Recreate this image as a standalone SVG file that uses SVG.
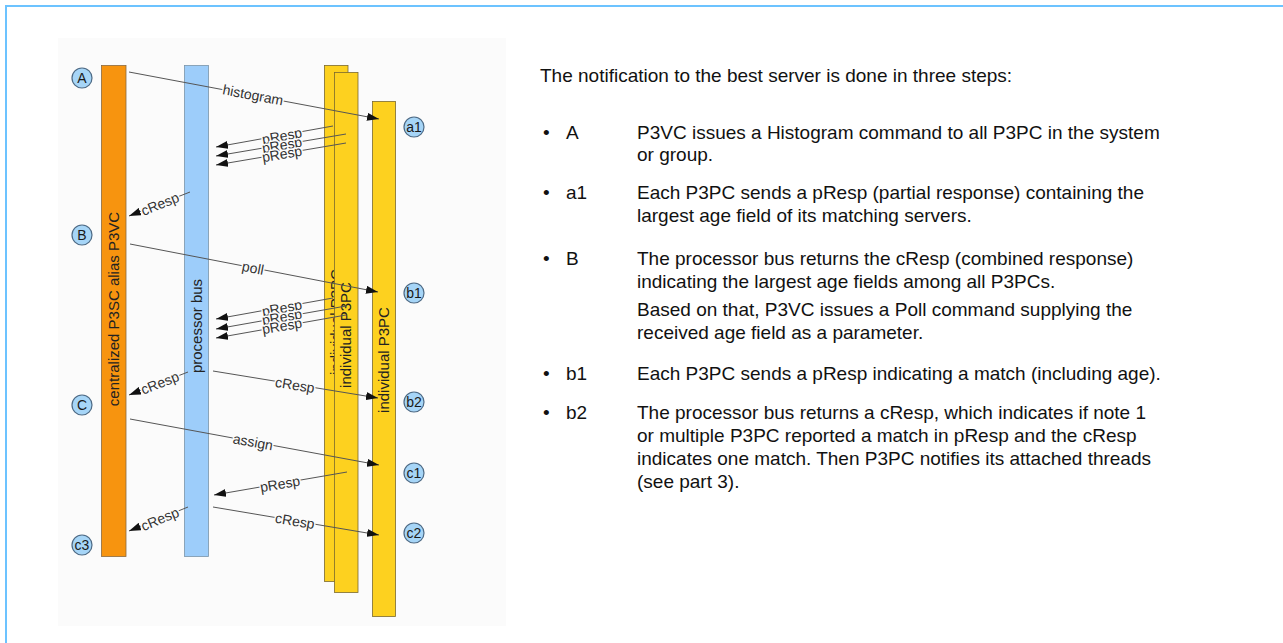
<svg xmlns="http://www.w3.org/2000/svg" width="1283" height="643" viewBox="0 0 1283 643">
<style>
.bar-o{fill:#f7940f;stroke:#8a6a40;stroke-width:0.8}
.bar-b{fill:#9dcdfa;stroke:#7a94aa;stroke-width:0.8}
.bar-y{fill:#fdd11f;stroke:#7a6a30;stroke-width:0.8}
.barlbl{font-family:"Liberation Sans",Arial,sans-serif;font-size:15px;fill:#222;text-anchor:middle}
.circ{fill:#a6d5f7;stroke:#4d6a85;stroke-width:1.2}
.clbl{font-family:"Liberation Sans",Arial,sans-serif;font-size:14px;fill:#1a1a1a;text-anchor:middle}
.conn{stroke:#555;stroke-width:1;fill:none;marker-end:url(#ah)}
.alb{font-family:"Liberation Sans",Arial,sans-serif;font-size:14px;fill:#333;text-anchor:middle;stroke:#fcfcfc;stroke-width:3;paint-order:stroke;stroke-linejoin:round}
.txt{font-family:"Liberation Sans",Arial,Helvetica,sans-serif;font-size:19px;fill:#111}
</style>
<defs>
<marker id="ah" markerWidth="12" markerHeight="8" refX="12" refY="4" orient="auto" markerUnits="userSpaceOnUse">
<path d="M0,0 L12,4 L0,8 z" fill="#111"/>
</marker>
</defs>
<rect x="0" y="0" width="1283" height="643" fill="#ffffff"/>
<rect x="6" y="6" width="1300" height="660" fill="none" stroke="#6cc3ff" stroke-width="2"/>
<rect x="58" y="38" width="448" height="588" fill="#fbfbfb"/>

<g id="node-p3vc">
<rect class="bar-o" x="101.5" y="65.5" width="24.5" height="491"/>
<text class="barlbl" transform="translate(114,309) rotate(-90)" dy="0.35em">centralized P3SC alias P3VC</text>
</g>
<g id="node-bus">
<rect class="bar-b" x="184.5" y="65.5" width="24" height="491"/>
<text class="barlbl" transform="translate(196.5,326) rotate(-90)" dy="0.35em">processor bus</text>
</g>
<g id="node-p3pc-1">
<rect class="bar-y" x="324.5" y="65.5" width="23.5" height="516"/>
<text class="barlbl" transform="translate(336,322) rotate(-90)" dy="0.35em">individual P3PC</text>
</g>
<g id="node-p3pc-2">
<rect class="bar-y" x="334.5" y="72.5" width="23.5" height="520"/>
<text class="barlbl" transform="translate(346,335) rotate(-90)" dy="0.35em">individual P3PC</text>
</g>
<g id="node-p3pc-3">
<rect class="bar-y" x="372.5" y="101.5" width="23" height="515"/>
<text class="barlbl" transform="translate(384,360) rotate(-90)" dy="0.35em">individual P3PC</text>
</g>

<g id="node-A"><circle class="circ" cx="82" cy="78" r="10"/><text class="clbl" x="82" y="83">A</text></g>
<g id="node-B"><circle class="circ" cx="82" cy="235" r="10"/><text class="clbl" x="82" y="240">B</text></g>
<g id="node-C"><circle class="circ" cx="82" cy="405" r="10"/><text class="clbl" x="82" y="410">C</text></g>
<g id="node-c3"><circle class="circ" cx="82" cy="545" r="10"/><text class="clbl" x="82" y="550">c3</text></g>
<g id="node-a1"><circle class="circ" cx="414" cy="127" r="10"/><text class="clbl" x="414" y="132">a1</text></g>
<g id="node-b1"><circle class="circ" cx="414" cy="293" r="10"/><text class="clbl" x="414" y="298">b1</text></g>
<g id="node-b2"><circle class="circ" cx="414" cy="402" r="10"/><text class="clbl" x="414" y="407">b2</text></g>
<g id="node-c1"><circle class="circ" cx="414" cy="473" r="10"/><text class="clbl" x="414" y="478">c1</text></g>
<g id="node-c2"><circle class="circ" cx="414" cy="533" r="10"/><text class="clbl" x="414" y="538">c2</text></g>

<g id="connectors">
<line class="conn" x1="129" y1="72" x2="379" y2="119"/>
<text class="alb" transform="translate(253,95) rotate(10.7)" dy="0.35em">histogram</text>

<line class="conn" x1="333" y1="126" x2="216" y2="147"/>
<line class="conn" x1="346" y1="134" x2="216" y2="156"/>
<line class="conn" x1="346" y1="143" x2="216" y2="165"/>
<text class="alb" transform="translate(282,136) rotate(-10.3)" dy="0.35em">pResp</text>
<text class="alb" transform="translate(282,145) rotate(-9.7)" dy="0.35em">pResp</text>
<text class="alb" transform="translate(282,154) rotate(-9.7)" dy="0.35em">pResp</text>

<line class="conn" x1="190" y1="192" x2="129" y2="216"/>
<text class="alb" transform="translate(160,204) rotate(-21.8)" dy="0.35em">cResp</text>

<line class="conn" x1="130" y1="244" x2="378" y2="292"/>
<text class="alb" transform="translate(253,268) rotate(11)" dy="0.35em">poll</text>

<line class="conn" x1="333" y1="298" x2="216" y2="319"/>
<line class="conn" x1="346" y1="306" x2="216" y2="329"/>
<line class="conn" x1="346" y1="315" x2="216" y2="338"/>
<text class="alb" transform="translate(282,308) rotate(-10.2)" dy="0.35em">pResp</text>
<text class="alb" transform="translate(282,317) rotate(-10)" dy="0.35em">pResp</text>
<text class="alb" transform="translate(282,326) rotate(-10)" dy="0.35em">pResp</text>

<line class="conn" x1="188" y1="372" x2="129" y2="395"/>
<text class="alb" transform="translate(160,383) rotate(-21.6)" dy="0.35em">cResp</text>

<line class="conn" x1="213" y1="371" x2="378" y2="398"/>
<text class="alb" transform="translate(295,385) rotate(9.3)" dy="0.35em">cResp</text>

<line class="conn" x1="130" y1="419" x2="379" y2="465"/>
<text class="alb" transform="translate(253,442) rotate(10.5)" dy="0.35em">assign</text>

<line class="conn" x1="347" y1="472" x2="214" y2="495"/>
<text class="alb" transform="translate(280,484) rotate(-9.9)" dy="0.35em">pResp</text>

<line class="conn" x1="213" y1="507" x2="379" y2="535"/>
<text class="alb" transform="translate(295,521) rotate(9.6)" dy="0.35em">cResp</text>

<line class="conn" x1="188" y1="507" x2="129" y2="531"/>
<text class="alb" transform="translate(160,519) rotate(-22.5)" dy="0.35em">cResp</text>
</g>

<g id="description">
<text class="txt" x="540" y="82">The notification to the best server is done in three steps:</text>
<text class="txt" x="543" y="139">•</text><text class="txt" x="566" y="139">A</text>
<text class="txt" x="637" y="139">P3VC issues a Histogram command to all P3PC in the system</text>
<text class="txt" x="637" y="161">or group.</text>
<text class="txt" x="543" y="199">•</text><text class="txt" x="566" y="199">a1</text>
<text class="txt" x="637" y="199">Each P3PC sends a pResp (partial response) containing the</text>
<text class="txt" x="637" y="222">largest age field of its matching servers.</text>
<text class="txt" x="543" y="265">•</text><text class="txt" x="566" y="265">B</text>
<text class="txt" x="637" y="265">The processor bus returns the cResp (combined response)</text>
<text class="txt" x="637" y="288">indicating the largest age fields among all P3PCs.</text>
<text class="txt" x="637" y="316">Based on that, P3VC issues a Poll command supplying the</text>
<text class="txt" x="637" y="339">received age field as a parameter.</text>
<text class="txt" x="543" y="380">•</text><text class="txt" x="566" y="380">b1</text>
<text class="txt" x="637" y="380">Each P3PC sends a pResp indicating a match (including age).</text>
<text class="txt" x="543" y="419">•</text><text class="txt" x="566" y="419">b2</text>
<text class="txt" x="637" y="419">The processor bus returns a cResp, which indicates if note 1</text>
<text class="txt" x="637" y="442">or multiple P3PC reported a match in pResp and the cResp</text>
<text class="txt" x="637" y="465">indicates one match. Then P3PC notifies its attached threads</text>
<text class="txt" x="637" y="488">(see part 3).</text>
</g>
</svg>
